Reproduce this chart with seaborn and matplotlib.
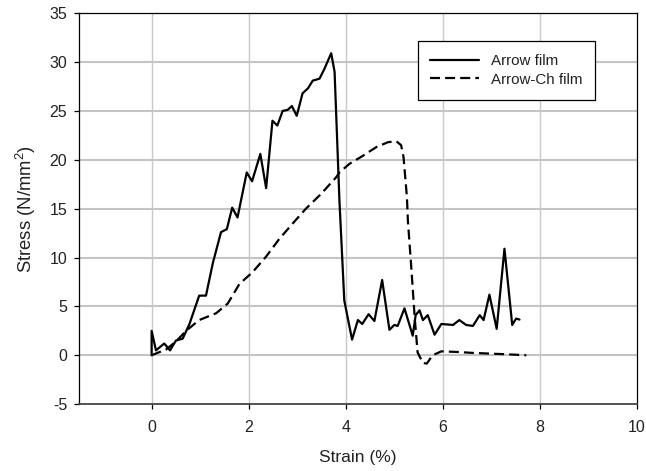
import numpy as np
import pandas as pd
import matplotlib
matplotlib.use("Agg")
import matplotlib.pyplot as plt
import seaborn as sns

# DATA
arrow_strain = [0.0, 0.0, 0.09, 0.26, 0.38, 0.50, 0.64, 0.78, 0.98, 1.12, 1.26,
                1.43, 1.55, 1.66, 1.77, 1.96, 2.07, 2.24, 2.36, 2.49, 2.59, 2.70,
                2.80, 2.89, 2.99, 3.11, 3.22, 3.32, 3.46, 3.56, 3.70, 3.77, 3.87,
                3.97, 4.13, 4.25, 4.34, 4.47, 4.59, 4.75, 4.90, 5.00, 5.07, 5.21,
                5.38, 5.44, 5.52, 5.59, 5.69, 5.83, 5.97, 6.21, 6.34, 6.48, 6.62,
                6.76, 6.84, 6.96, 7.11, 7.27, 7.43, 7.51, 7.58]
arrow_stress = [0.0, 2.5, 0.5, 1.2, 0.5, 1.5, 1.7, 3.2, 6.1, 6.1, 9.4,
                12.6, 12.9, 15.1, 14.1, 18.7, 17.8, 20.6, 17.1, 24.0, 23.5, 25.0,
                25.1, 25.5, 24.5, 26.8, 27.3, 28.1, 28.3, 29.3, 30.9, 29.0, 15.8,
                5.6, 1.6, 3.6, 3.2, 4.2, 3.5, 7.7, 2.6, 3.1, 3.0, 4.8,
                2.0, 4.1, 4.6, 3.6, 4.1, 2.1, 3.2, 3.1, 3.6, 3.1, 3.0,
                4.1, 3.6, 6.2, 2.7, 10.9, 3.1, 3.75, 3.65]

arrowch_strain = [0.0, 0.30, 0.50, 0.71, 0.98, 1.33, 1.57, 1.81, 2.08, 2.36, 2.63,
                  2.91, 3.18, 3.49, 3.80, 3.87, 4.08, 4.35, 4.63, 4.87, 5.04, 5.14,
                  5.19, 5.26, 5.28, 5.35, 5.42, 5.48, 5.59, 5.67, 5.79, 5.97, 6.28,
                  6.62, 6.96, 7.31, 7.72]
arrowch_stress = [0.0, 0.6, 1.4, 2.5, 3.6, 4.3, 5.3, 7.3, 8.5, 10.1, 11.9,
                  13.5, 15.0, 16.5, 18.2, 18.7, 19.6, 20.4, 21.3, 21.8, 21.9, 21.5,
                  20.3, 16.2, 13.8, 9.0, 3.9, 0.3, -0.8, -0.85, 0.0, 0.4, 0.34,
                  0.24, 0.17, 0.1, 0.0]

x_ticks = [0, 2, 4, 6, 8, 10]
y_ticks = [-5, 0, 5, 10, 15, 20, 25, 30, 35]

sns.set_style("ticks")
plt.rcParams['font.family'] = ['Liberation Sans', 'DejaVu Sans']
plt.rcParams['mathtext.fontset'] = 'custom'
plt.rcParams['mathtext.rm'] = 'Liberation Sans'
plt.rcParams['mathtext.it'] = 'Liberation Sans'
plt.rcParams['axes.unicode_minus'] = False

df_a = pd.DataFrame({'strain': arrow_strain, 'stress': arrow_stress})
df_c = pd.DataFrame({'strain': arrowch_strain, 'stress': arrowch_stress})

fig, ax = plt.subplots(figsize=(6.46, 4.71), dpi=100)
fig.subplots_adjust(left=0.122, right=0.986, top=0.972, bottom=0.142)

ax.set_xlim(-1.5, 10)
ax.set_ylim(-5, 35)
ax.set_xticks(x_ticks)
ax.set_yticks(y_ticks)

for v in x_ticks[:-1]:
    ax.axvline(v, color='#c8c8c8', lw=1.0, zorder=0)
for v in y_ticks[1:-1]:
    ax.axhline(v, color='#c4c4c4', lw=1.5, zorder=0)

sns.lineplot(data=df_a, x='strain', y='stress', sort=False, estimator=None,
             color='black', lw=1.6, ax=ax, label='Arrow film',
             solid_joinstyle='round', solid_capstyle='round')
sns.lineplot(data=df_c, x='strain', y='stress', sort=False, estimator=None,
             color='black', lw=1.6, ax=ax, label='Arrow-Ch film',
             dashes=False, linestyle=(0, (4.5, 2.3)), dash_joinstyle='round')

for s in ax.spines.values():
    s.set_color('black')
    s.set_linewidth(0.9)
ax.spines['bottom'].set_color('#444444')
ax.spines['bottom'].set_linewidth(1.3)
ax.tick_params(axis='both', direction='out', length=3.5, width=0.9,
               labelsize=11.5, colors='black', labelcolor='#222222')
ax.tick_params(axis='x', pad=8)
ax.tick_params(axis='y', pad=5)

ax.set_xlabel('Strain (%)', fontsize=12.5, labelpad=11, color='#222222')
ax.set_ylabel('Stress (N/mm$^{2}$)', fontsize=13.3, labelpad=8, color='#222222')

leg = ax.legend(loc='upper left', bbox_to_anchor=(0.607, 0.928), fontsize=10.9,
                frameon=True, fancybox=False, edgecolor='black',
                handlelength=3.2, handletextpad=0.8, borderpad=0.85,
                labelspacing=0.3, borderaxespad=0)
leg.get_frame().set_linewidth(0.9)
leg.get_frame().set_alpha(1)
for t in leg.get_texts():
    t.set_color('#222222')

plt.savefig('out.png', dpi=100)
